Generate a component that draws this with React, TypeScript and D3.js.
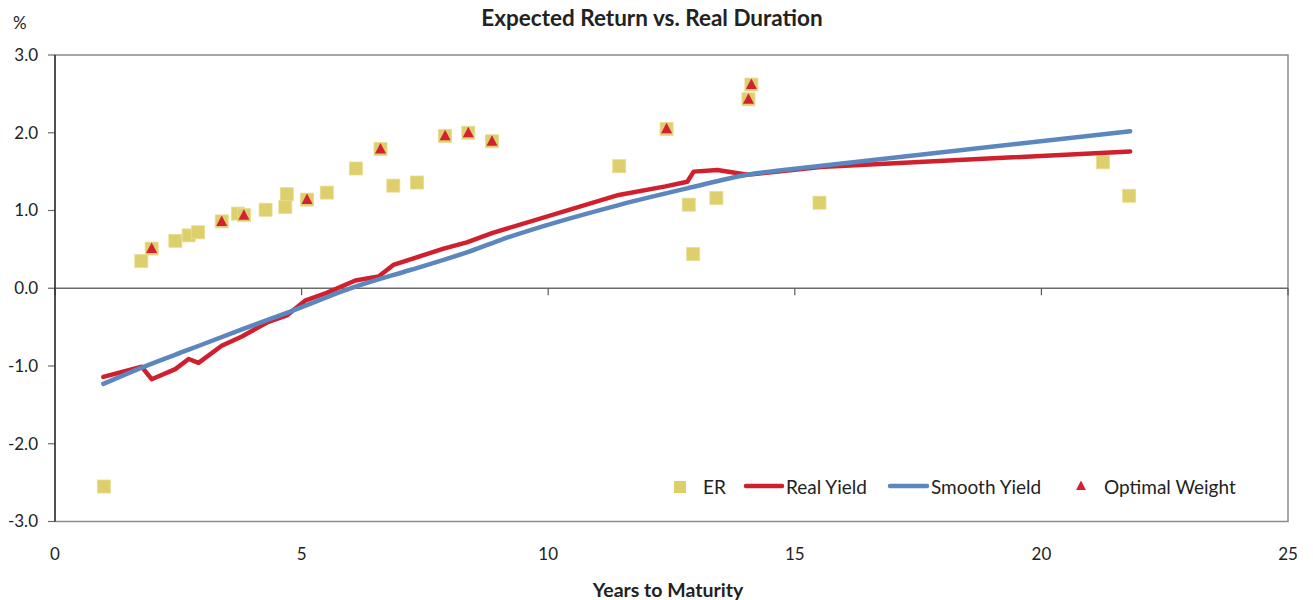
import React from "react";
import * as d3 from "d3";

const erX = [0.99, 1.75, 1.96, 2.44, 2.71, 2.90, 3.38, 3.71, 3.83, 4.27, 4.67, 4.70, 5.11, 5.51, 6.10, 6.60, 6.86, 7.34, 7.91, 8.38, 8.86, 11.44, 12.40, 12.85, 12.94, 13.41, 14.06, 14.12, 15.50, 21.25, 21.78];
const erY = [-2.55, 0.35, 0.51, 0.61, 0.68, 0.72, 0.86, 0.96, 0.94, 1.01, 1.045, 1.21, 1.14, 1.23, 1.54, 1.79, 1.32, 1.36, 1.96, 2.00, 1.89, 1.57, 2.05, 1.075, 0.44, 1.16, 2.43, 2.62, 1.10, 1.62, 1.19];

const optX = [1.96, 3.38, 3.83, 5.11, 6.60, 7.91, 8.38, 8.86, 12.40, 14.06, 14.12];
const optY = [0.51, 0.86, 0.94, 1.14, 1.79, 1.96, 2.00, 1.89, 2.05, 2.43, 2.62];

const realX = [0.98, 1.76, 1.96, 2.44, 2.71, 2.91, 3.38, 3.79, 4.30, 4.70, 5.07, 5.51, 6.09, 6.56, 6.86, 7.27, 7.88, 8.35, 8.86, 11.43, 12.38, 12.82, 12.95, 13.43, 14.04, 15.52, 21.80];
const realY = [-1.14, -1.01, -1.17, -1.04, -0.91, -0.96, -0.74, -0.62, -0.44, -0.35, -0.16, -0.06, 0.10, 0.15, 0.30, 0.385, 0.51, 0.59, 0.71, 1.20, 1.31, 1.37, 1.50, 1.52, 1.46, 1.56, 1.76];

const smoothX = [0.98, 1.76, 2.71, 3.79, 4.77, 6.09, 7.20, 8.35, 9.03, 11.43, 12.82, 14.04, 15.46, 21.80];
const smoothY = [-1.23, -1.02, -0.79, -0.53, -0.30, 0.02, 0.235, 0.46, 0.62, 1.07, 1.285, 1.46, 1.57, 2.02];

const xTicks = [0, 5, 10, 15, 20, 25];
const yTicks = [-3, -2, -1, 0, 1, 2, 3];

const W = 1313;
const H = 600;
const left = 55;
const right = 1288;
const top = 55;
const bottom = 521.5;

const FONT = "Lato, 'Open Sans', sans-serif";
const GOLD = "#DDCF6C";
const RED = "#D0202E";
const BLUE = "#5B87BE";
const TRI = "#D42030";

export default function App() {
  const x = d3.scaleLinear().domain([0, 25]).range([left, right]);
  const y = d3.scaleLinear().domain([-3, 3]).range([bottom, top]);

  const line = d3
    .line<[number, number]>()
    .x((d) => x(d[0]))
    .y((d) => y(d[1]));

  const realPts: [number, number][] = realX.map((v, i) => [v, realY[i]]);
  const smoothPts: [number, number][] = smoothX.map((v, i) => [v, smoothY[i]]);
  const smoothLine = d3
    .line<[number, number]>()
    .x((d) => x(d[0]))
    .y((d) => y(d[1]))
    .curve(d3.curveMonotoneX);

  const sq = 13;
  const tri = (cx: number, cy: number, s: number) =>
    `M${cx},${cy - s * 0.6} L${cx + s * 0.55},${cy + s * 0.45} L${cx - s * 0.55},${cy + s * 0.45} Z`;

  const legY = 487;
  const legFS = 19;

  return (
    <svg width={W} height={H} style={{ display: "block", position: "absolute", left: 0, top: 0 }}>
      <rect x={0} y={0} width={W} height={H} fill="#fff" />
      <text x={652} y={26} textAnchor="middle" fontFamily={FONT} fontWeight="bold" fontSize={22.5} fill="#222">
        Expected Return vs. Real Duration
      </text>
      <text x={13} y={29} fontFamily={FONT} fontSize={17} fill="#222">%</text>

      {/* plot border */}
      <rect x={left} y={top} width={right - left} height={bottom - top} fill="none" stroke="#8a8a8a" strokeWidth={1.5} />

      {/* y ticks */}
      {yTicks.map((t) => (
        <g key={"y" + t}>
          <line x1={left - 7} x2={left} y1={y(t)} y2={y(t)} stroke="#6a6a6a" strokeWidth={1.2} />
          <text x={38} y={y(t)} dy="0.35em" textAnchor="end" fontFamily={FONT} fontSize={17} fill="#222">
            {t.toFixed(1)}
          </text>
        </g>
      ))}

      {/* zero axis */}
      <line x1={left} x2={right} y1={y(0)} y2={y(0)} stroke="#6a6a6a" strokeWidth={1.5} />
      {xTicks.map((t) => (
        <g key={"x" + t}>
          <line x1={x(t)} x2={x(t)} y1={y(0)} y2={y(0) + 7} stroke="#5a5a5a" strokeWidth={1.2} />
          <text x={x(t)} y={554} dy="0.35em" textAnchor="middle" fontFamily={FONT} fontSize={17} fill="#222">
            {t}
          </text>
        </g>
      ))}

      {/* left axis */}
      <line x1={left} x2={left} y1={top} y2={bottom} stroke="#222" strokeWidth={1.3} />

      <text x={668} y={597} textAnchor="middle" fontFamily={FONT} fontWeight="bold" fontSize={19.5} fill="#222">
        Years to Maturity
      </text>

      {/* ER squares */}
      {erX.map((v, i) => (
        <rect
          key={"er" + i}
          x={x(v) - sq / 2}
          y={y(erY[i]) - sq / 2}
          width={sq}
          height={sq}
          fill={GOLD}
          stroke="#E8DC90"
          strokeWidth={0.8}
        />
      ))}

      {/* lines */}
      <path d={line(realPts) || ""} fill="none" stroke={RED} strokeWidth={4.5} strokeLinejoin="round" strokeLinecap="round" />
      <path d={smoothLine(smoothPts) || ""} fill="none" stroke={BLUE} strokeWidth={4.5} strokeLinejoin="round" strokeLinecap="round" />

      {/* optimal weight triangles */}
      {optX.map((v, i) => (
        <path key={"ow" + i} d={tri(x(v), y(optY[i]), 10)} fill={TRI} />
      ))}

      {/* legend */}
      <rect x={674} y={legY - 6} width={12} height={12} fill={GOLD} />
      <text x={703} y={legY} dy="0.35em" fontFamily={FONT} fontSize={legFS} fill="#222">ER</text>
      <line x1={746} x2={782} y1={legY - 1} y2={legY - 1} stroke={RED} strokeWidth={4.5} strokeLinecap="round" />
      <text x={786} y={legY} dy="0.35em" fontFamily={FONT} fontSize={legFS} fill="#222">Real Yield</text>
      <line x1={890} x2={927} y1={legY - 1} y2={legY - 1} stroke={BLUE} strokeWidth={4.5} strokeLinecap="round" />
      <text x={931} y={legY} dy="0.35em" fontFamily={FONT} fontSize={legFS} fill="#222">Smooth Yield</text>
      <path d={tri(1081, legY - 1, 9)} fill={TRI} />
      <text x={1104} y={legY} dy="0.35em" fontFamily={FONT} fontSize={legFS} fill="#222">Optimal Weight</text>
    </svg>
  );
}
